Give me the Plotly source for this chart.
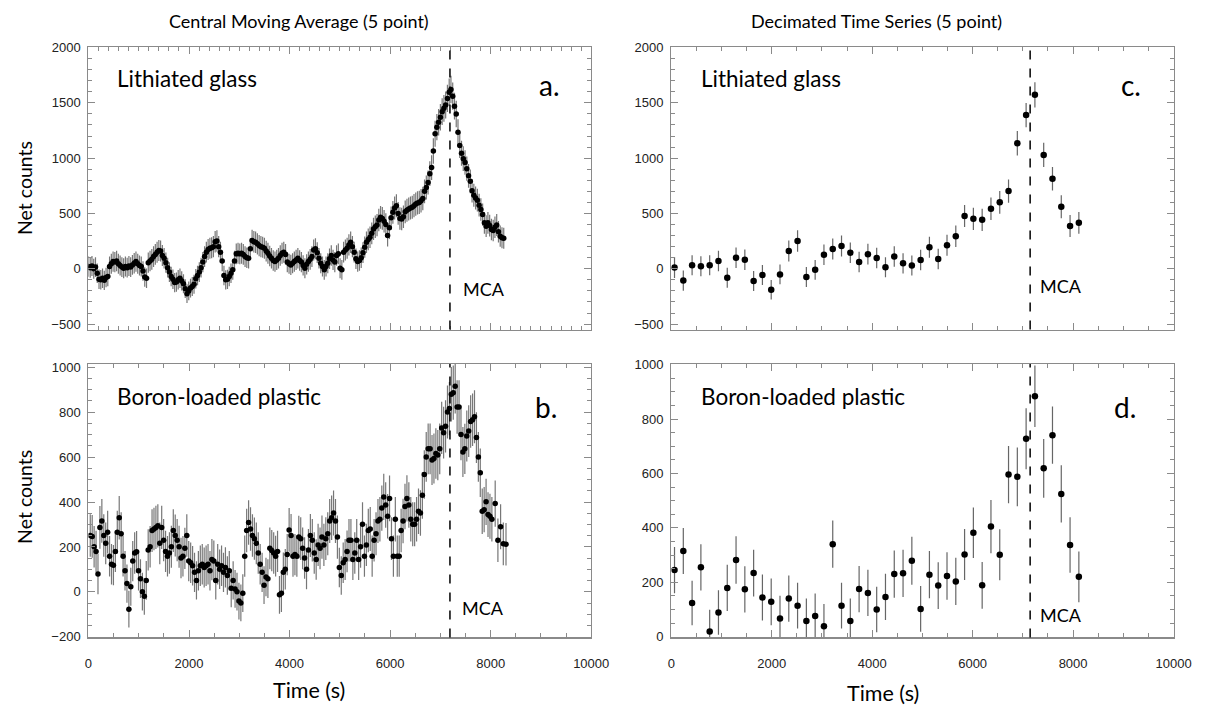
import numpy as np
import plotly.graph_objects as go

W, H = 1221, 719

# ---------------- data ----------------
# Panel a: Lithiated glass, central moving average (5 point)
lith_ma_counts = [
    20, 10, 25, 0, 15, -40, -95, -100, -85, -105,
    -80, -70, 20, 45, 65, 60, 70, 45, 30, 15,
    5, 20, 10, 25, 15, 35, 50, 65, 45, 30,
    20, -20, -75, -85, 55, 70, 85, 110, 130, 150,
    165, 160, 120, 95, 55, 10, -30, -70, -95, -125,
    -120, -100, -85, -110, -135, -180, -225, -200, -175, -160,
    -140, -90, -60, -30, 10, 60, 110, 150, 175, 185,
    190, 200, 245, 250, 200, 150, 70, -60, -100, -95,
    -70, -40, -10, 70, 135, 140, 135, 140, 130, 110,
    100, 95, 180, 255, 245, 240, 225, 210, 200, 195,
    185, 160, 140, 115, 95, 75, 65, 80, 95, 120,
    140, 150, 130, 60, 45, 35, 50, 65, 80, 95,
    75, 60, 30, 5, 40, 65, 85, 110, 170, 180,
    145, 95, 50, 20, -10, 20, 50, 90, 120, 80,
    60, 120, 135, 5, -10, 150, 170, 185, 215, 240,
    200, 150, 90, 65, 75, 100, 145, 195, 240, 265,
    285, 320, 360, 380, 395, 440, 465, 455, 430, 400,
    300, 370, 460, 510, 550, 570, 500, 455, 450, 470,
    515, 530, 540, 550, 555, 570, 585, 595, 600, 615,
    635, 700, 735, 780, 860, 915, 1065, 1220, 1280, 1325,
    1370, 1420, 1450, 1480, 1540, 1595, 1620, 1560, 1470, 1400,
    1235, 1115, 1045, 995, 960, 905, 840, 790, 705, 665,
    640, 620, 575, 535, 490, 415, 385, 415, 390, 355,
    345, 375, 395, 335, 295, 280, 275,
]
lith_ma_err = [
    92, 92, 90, 90, 90, 88, 88, 88, 88, 88, 88, 88, 90, 90, 92, 92, 92, 90, 90, 90,
    90, 90, 90, 90, 90, 90, 92, 92, 90, 90, 90, 88, 88, 88, 92, 92, 93, 93, 94, 95,
    95, 95, 94, 93, 92, 90, 89, 88, 88, 87, 87, 88, 88, 87, 86, 85, 84, 85, 85, 86,
    86, 88, 88, 89, 90, 92, 93, 94, 95, 95, 95, 96, 97, 97, 96, 94, 92, 88, 87, 87,
    88, 88, 89, 92, 94, 94, 94, 94, 94, 93, 93, 93, 95, 97, 97, 97, 96, 96, 96, 95,
    95, 94, 94, 93, 92, 92, 92, 92, 92, 93, 94, 95, 94, 92, 91, 91, 91, 92, 92, 93,
    92, 92, 91, 90, 91, 92, 93, 93, 95, 95, 94, 92, 91, 90, 89, 90, 91, 92, 93, 92,
    92, 93, 94, 90, 89, 94, 95, 95, 96, 97, 96, 94, 92, 92, 92, 93, 94, 96, 97, 98,
    98, 99, 100, 101, 101, 102, 103, 103, 102, 101, 98, 100, 102, 103, 104, 104, 103, 102, 102, 102,
    103, 104, 104, 104, 104, 105, 105, 105, 105, 106, 106, 108, 108, 109, 111, 112, 115, 118, 119, 120,
    120, 121, 121, 122, 123, 124, 124, 123, 121, 120, 117, 114, 113, 112, 111, 110, 108, 107, 105, 104,
    104, 103, 102, 102, 101, 99, 98, 99, 98, 98, 97, 98, 99, 97, 96, 95, 95,
]

# Panel b: Boron-loaded plastic, central moving average (5 point)
boron_ma_counts = [
    251, 247, 201, 180, 80, 287, 316, 251, 216, 266,
    159, 123, 119, 180, 266, 330, 259, 159, 94, 37,
    -77, 23, 137, 173, 179, 94, 59, 1, -20, 51,
    187, 201, 273, 280, 287, 294, 216, 287, 230, 180,
    159, 173, 201, 273, 251, 230, 201, 151, 159, 194,
    251, 137, 130, 116, 87, 51, 94, 116, 123, 109,
    116, 123, 94, 144, 137, 51, 123, 101, 116, 87,
    109, 73, 94, 16, 51, 13, 1, -41, -49, -6,
    159, 273, 309, 280, 251, 237, 216, 173, 123, 87,
    30, 66, 59, 194, 184, 173, 159, 180, -13, -6,
    87, 101, 166, 276, 251, 159, 166, 159, 244, 237,
    194, 151, 101, 187, 251, 230, 173, 144, 209, 194,
    244, 209, 237, 259, 316, 330, 351, 316, 244, 109,
    73, 130, 144, 180, 230, 230, 144, 173, 230, 144,
    201, 301, 159, 209, 273, 280, 159, 230, 259, 316,
    323, 373, 423, 387, 337, 416, 237, 159, 323, 159,
    159, 273, 316, 380, 416, 387, 323, 301, 301, 323,
    359, 351, 430, 523, 601, 637, 637, 587, 594, 616,
    609, 637, 730, 709, 737, 801, 816, 880, 887, 916,
    823, 823, 701, 623, 637, 694, 716, 759, 766, 780,
    687, 601, 530, 359, 366, 401, 344, 337, 323,
    393, 230, 290, 214, 212,
]
boron_ma_err = [
    95, 95, 92, 92, 90, 95, 97, 95, 93, 95, 90, 90, 90, 92, 95, 97, 95, 90, 88, 85,
    82, 85, 90, 92, 92, 88, 86, 84, 82, 86, 92, 92, 95, 95, 96, 96, 93, 96, 94, 92,
    90, 92, 93, 95, 94, 94, 93, 90, 90, 92, 95, 90, 90, 88, 87, 85, 88, 90, 90, 89,
    90, 90, 88, 92, 92, 85, 90, 88, 90, 87, 90, 86, 88, 84, 85, 84, 84, 82, 82, 84,
    92, 97, 99, 97, 95, 94, 93, 92, 90, 87, 84, 86, 86, 93, 92, 92, 91, 92, 84, 84,
    88, 90, 92, 97, 96, 92, 92, 92, 95, 95, 93, 92, 89, 93, 96, 95, 92, 90, 94, 93,
    96, 94, 95, 96, 98, 99, 100, 98, 96, 88, 86, 90, 91, 93, 95, 95, 91, 92, 95, 91,
    93, 98, 92, 94, 97, 98, 92, 95, 96, 98, 99, 101, 103, 101, 99, 102, 95, 92, 99, 92,
    92, 97, 99, 101, 103, 101, 99, 98, 98, 99, 101, 101, 104, 108, 111, 113, 113, 111, 111, 112,
    112, 113, 116, 115, 116, 118, 119, 121, 121, 122, 119, 119, 115, 111, 112, 114, 115, 117, 117, 118,
    113, 111, 108, 101, 101, 103, 100, 100, 99,
    103, 97, 100, 95, 95,
]

# Panel c: Lithiated glass, decimated (5 point)
lith_dec_counts = [
    11, -107, 32, 23, 32, 70, -81, 99, 82, -110,
    -57, -190, -51, 161, 250, -75, -10, 126, 179, 206,
    144, 61, 132, 97, 14, 111, 49, 29, 79, 194,
    88, 212, 294, 477, 451, 442, 542, 601, 702, 1135,
    1389, 1572, 1029, 814, 560, 386, 415,
]
lith_dec_err = [
    95, 92, 90, 90, 90, 92, 90, 93, 93, 90, 90, 88, 90, 95, 97, 90, 90, 93, 95, 95,
    93, 92, 93, 93, 90, 93, 92, 90, 92, 95, 92, 95, 97, 100, 100, 100, 102, 103, 105, 110,
    110, 115, 110, 106, 104, 99, 99,
]

# Panel d: Boron-loaded plastic, decimated (5 point)
boron_dec_counts = [
    245, 315, 124, 255, 19, 89, 179, 282, 174, 234,
    144, 128, 67, 140, 114, 58, 76, 38, 340, 114,
    58, 175, 161, 100, 146, 230, 233, 279, 102, 228,
    188, 223, 203, 302, 382, 189, 405, 301, 596, 588,
    728, 884, 619, 741, 525, 337, 220,
]
boron_dec_err = [
    85, 85, 82, 85, 80, 82, 85, 87, 85, 86, 85, 86, 83, 85, 84, 82, 83, 82, 87, 84,
    82, 85, 85, 84, 85, 87, 87, 88, 84, 87, 86, 87, 87, 94, 93, 86, 98, 94, 105, 108,
    112, 113, 108, 105, 105, 102, 93,
]

# sampling grids (s)
ma_a_time = np.linspace(0, 8260, len(lith_ma_counts))
ma_b_time = np.concatenate([np.linspace(36, 8024, 209), np.linspace(8090, 8305, 5)])
dec_time = np.linspace(65, 8115, len(lith_dec_counts))

MCA_TIME_MA = 7190
MCA_TIME_DEC = 7145

x_tickvals = [0, 2000, 4000, 6000, 8000, 10000]
x_ticktext = ['0', '2000', '4000', '6000', '8000', '10000']
top_y_ticks = [-500, 0, 500, 1000, 1500, 2000]
b_y_ticks = [-200, 0, 200, 400, 600, 800, 1000]
d_y_ticks = [0, 200, 400, 600, 800, 1000]

# ---------------- figure ----------------
def px_x(x):
    return x / W

def px_y(y):
    return 1 - y / H

XDOM_L = [px_x(86), px_x(598)]
XDOM_R = [px_x(679.5), px_x(1191)]
YDOM_T = [px_y(329), px_y(41)]
YDOM_B = [px_y(643), px_y(364)]

AX_COL = '#8a8a8a'
TICK_FONT = dict(family='Liberation Sans, Arial, sans-serif', size=13, color='#222222')
TXT_FONT = 'Lato, Open Sans, sans-serif'

fig = go.Figure()

def add_series(t, v, e, xa, ya, msize, ecol):
    fig.add_trace(go.Scatter(
        x=t, y=v, mode='markers', xaxis=xa, yaxis=ya,
        marker=dict(color='black', size=msize, line=dict(width=0)),
        error_y=dict(type='data', array=e, visible=True, color=ecol,
                     thickness=1.2, width=0),
        showlegend=False, hoverinfo='skip'))

add_series(ma_a_time, lith_ma_counts, lith_ma_err, 'x', 'y', 5.5, '#777777')
add_series(ma_b_time, boron_ma_counts, boron_ma_err, 'x2', 'y2', 5.5, '#777777')
add_series(dec_time, lith_dec_counts, lith_dec_err, 'x3', 'y3', 6.5, '#666666')
add_series(dec_time, boron_dec_counts, boron_dec_err, 'x4', 'y4', 6.5, '#666666')

def xaxis(domain, anchor, labels, minor_dtick):
    return dict(domain=domain, anchor=anchor, range=[0, 10000],
                tickvals=x_tickvals, ticktext=x_ticktext, showticklabels=labels,
                showline=True, linecolor=AX_COL, linewidth=1.2, mirror='ticks',
                ticks='inside', ticklen=7, tickwidth=1, tickcolor=AX_COL,
                minor=dict(ticks='inside', ticklen=4, tickwidth=1, tickcolor=AX_COL,
                           dtick=minor_dtick, showgrid=False),
                showgrid=False, zeroline=False, tickfont=TICK_FONT, ticklabelstandoff=14)

def yaxis(domain, anchor, rng, tickvals, minor_dtick):
    return dict(domain=domain, anchor=anchor, range=rng, tickvals=tickvals,
                showline=True, linecolor=AX_COL, linewidth=1.2, mirror='ticks',
                ticks='inside', ticklen=7, tickwidth=1, tickcolor=AX_COL,
                minor=dict(ticks='inside', ticklen=4, tickwidth=1, tickcolor=AX_COL,
                           dtick=minor_dtick, showgrid=False),
                showgrid=False, zeroline=False, tickfont=TICK_FONT, ticklabelstandoff=4)

fig.update_layout(
    xaxis=xaxis(XDOM_L, 'y', False, 200),
    yaxis=yaxis(YDOM_T, 'x', [-550, 2003], top_y_ticks, 100),
    xaxis2=xaxis(XDOM_L, 'y2', True, 500),
    yaxis2=yaxis(YDOM_B, 'x2', [-203, 1015], b_y_ticks, 50),
    xaxis3=xaxis(XDOM_R, 'y3', False, 500),
    yaxis3=yaxis(YDOM_T, 'x3', [-550, 2003], top_y_ticks, 100),
    xaxis4=xaxis(XDOM_R, 'y4', True, 500),
    yaxis4=yaxis(YDOM_B, 'x4', [-3, 1003], d_y_ticks, 50),
)

# MCA dashed lines
for xa, ya, tm in [('x', 'y', MCA_TIME_MA), ('x2', 'y2', MCA_TIME_MA),
                   ('x3', 'y3', MCA_TIME_DEC), ('x4', 'y4', MCA_TIME_DEC)]:
    fig.add_shape(type='line', xref=xa, yref=ya + ' domain', x0=tm, x1=tm, y0=0, y1=1,
                  line=dict(color='black', width=1.5, dash='dash'))

def ann(text, x, y, size, xanchor='left', textangle=0):
    fig.add_annotation(text=text, x=px_x(x), y=px_y(y), xref='paper', yref='paper',
                       xanchor=xanchor, yanchor='middle', showarrow=False,
                       textangle=textangle,
                       font=dict(family=TXT_FONT, size=size, color='black'))

ann('Central Moving Average (5 point)', 300, 14, 18, 'center')
ann('Decimated Time Series (5 point)', 888, 14, 18, 'center')
ann('Lithiated glass', 113, 73, 22.5)
ann('Lithiated glass', 708, 73, 22.5)
ann('Boron-loaded plastic', 113, 397, 22.5)
ann('Boron-loaded plastic', 708, 397, 22.5)
ann('a.', 555, 80, 28, 'center')
ann('b.', 552, 408, 28, 'center')
ann('c.', 1148, 80, 28, 'center')
ann('d.', 1142, 408, 28, 'center')
ann('MCA', 465, 288, 18)
ann('MCA', 464, 613, 18)
ann('MCA', 1053, 285, 18)
ann('MCA', 1053, 620, 18)
ann('Net counts', 21, 185, 19.5, 'center', -90)
ann('Net counts', 21, 500, 19.5, 'center', -90)
ann('Time (s)', 311, 697, 21.5, 'center')
ann('Time (s)', 895, 700, 21.5, 'center')

fig.update_layout(width=W, height=H, margin=dict(l=0, r=0, t=0, b=0, pad=0),
                  paper_bgcolor='white', plot_bgcolor='white')

fig.write_html(
    "out.html",
    config={'displayModeBar': False, 'staticPlot': True},
    post_script="document.body.style.margin='0';document.body.style.padding='0';"
                "document.body.style.overflow='hidden';"
                "document.documentElement.style.overflow='hidden';",
)
